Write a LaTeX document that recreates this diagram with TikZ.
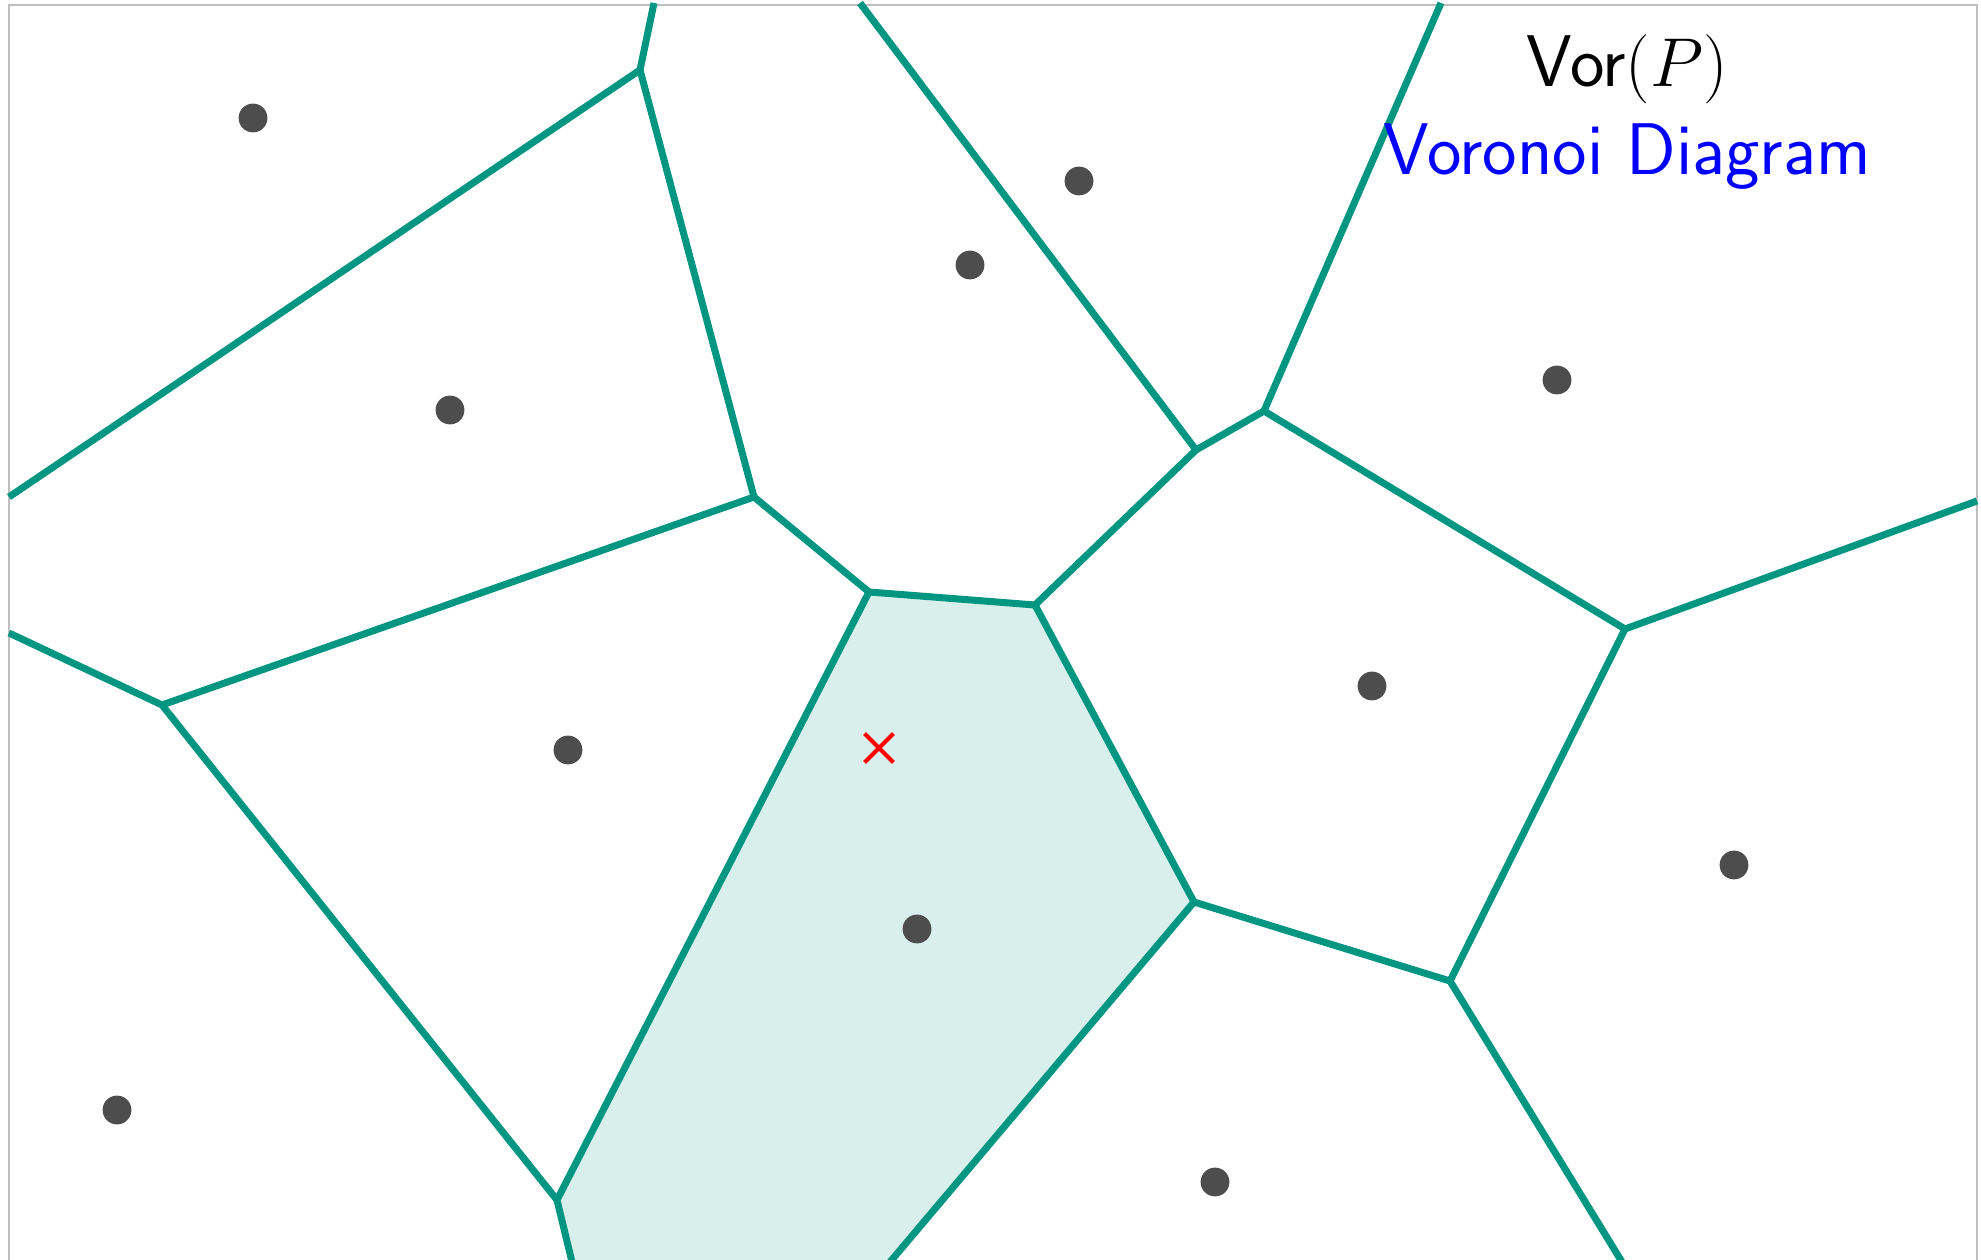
\documentclass[tikz,border=0pt]{standalone}
\usetikzlibrary{shapes.misc}
\definecolor{vteal}{RGB}{0,150,130}
\definecolor{dotgray}{RGB}{77,77,77}
\definecolor{framegray}{RGB}{190,190,190}
\begin{document}
\begin{tikzpicture}[x=0.25pt,y=-0.25pt,
  vedge/.style={draw=vteal,line width=1.75pt},
  site/.style={circle,fill=dotgray,inner sep=0pt,minimum size=7.2pt},
  frameline/.style={draw=framegray,line width=0.7pt},
  lbl/.style={anchor=base,inner sep=0pt,font=\fontsize{18.3pt}{22pt}\selectfont}]
\useasboundingbox (0,0) rectangle (1981,1260);
\clip (0,0) rectangle (1981,1260);
% Voronoi vertices
\coordinate (V1) at (640,70);
\coordinate (V2) at (754,497);
\coordinate (V3) at (162,705);
\coordinate (V4) at (869,592);
\coordinate (V5) at (557,1200);
\coordinate (V6) at (1035,605);
\coordinate (V7) at (1196,450);
\coordinate (V8) at (1194,902);
\coordinate (V9) at (1264,411);
\coordinate (V10) at (1625,629);
\coordinate (V11) at (1450,981);
% free ends on the frame
\coordinate (E1) at (654,3);
\coordinate (E2) at (9,497);
\coordinate (E3) at (9,633);
\coordinate (E4) at (860,3);
\coordinate (E5) at (1441,3);
\coordinate (E6) at (1977,501);
\coordinate (E7) at (572,1262);
\coordinate (E8) at (890,1262);
\coordinate (E9) at (1622,1262);
% frame
\coordinate (F1) at (9,1270);
\coordinate (F2) at (9,5);
\coordinate (F3) at (1977,5);
\coordinate (F4) at (1977,1270);
\draw[frameline] (F1) -- (F2) -- (F3) -- (F4);
% highlighted cell
\fill[vteal!15] (V5) -- (V4) -- (V6) -- (V8) -- (E8) -- (E7) -- cycle;
% edges
\draw[vedge] (E1) -- (V1);
\draw[vedge] (V1) -- (E2);
\draw[vedge] (V1) -- (V2);
\draw[vedge] (V2) -- (V3);
\draw[vedge] (V3) -- (E3);
\draw[vedge] (V3) -- (V5);
\draw[vedge] (V2) -- (V4);
\draw[vedge] (V4) -- (V5);
\draw[vedge] (V5) -- (E7);
\draw[vedge] (V4) -- (V6);
\draw[vedge] (V6) -- (V7);
\draw[vedge] (V7) -- (E4);
\draw[vedge] (V7) -- (V9);
\draw[vedge] (V9) -- (E5);
\draw[vedge] (V9) -- (V10);
\draw[vedge] (V10) -- (E6);
\draw[vedge] (V10) -- (V11);
\draw[vedge] (V6) -- (V8);
\draw[vedge] (V8) -- (V11);
\draw[vedge] (V8) -- (E8);
\draw[vedge] (V11) -- (E9);
% sites
\node[site] (p1) at (253,118) {};
\node[site] (p2) at (450,410) {};
\node[site] (p3) at (568,750) {};
\node[site] (p4) at (117,1110) {};
\node[site] (p5) at (917,929) {};
\node[site] (p6) at (970,265) {};
\node[site] (p7) at (1079,181) {};
\node[site] (p8) at (1557,380) {};
\node[site] (p9) at (1372,686) {};
\node[site] (p10) at (1734,865) {};
\node[site] (p11) at (1215,1182) {};
% query point
\node[cross out,draw=red,line width=1pt,minimum size=6.2pt,inner sep=0pt] (q) at (879,748) {};
% labels
\node[lbl] (t1) at (1627,87) {\textsf{Vor}$(P)$};
\node[lbl,text=blue] (t2) at (1627,175) {\textsf{Voronoi Diagram}};
\end{tikzpicture}
\end{document}
